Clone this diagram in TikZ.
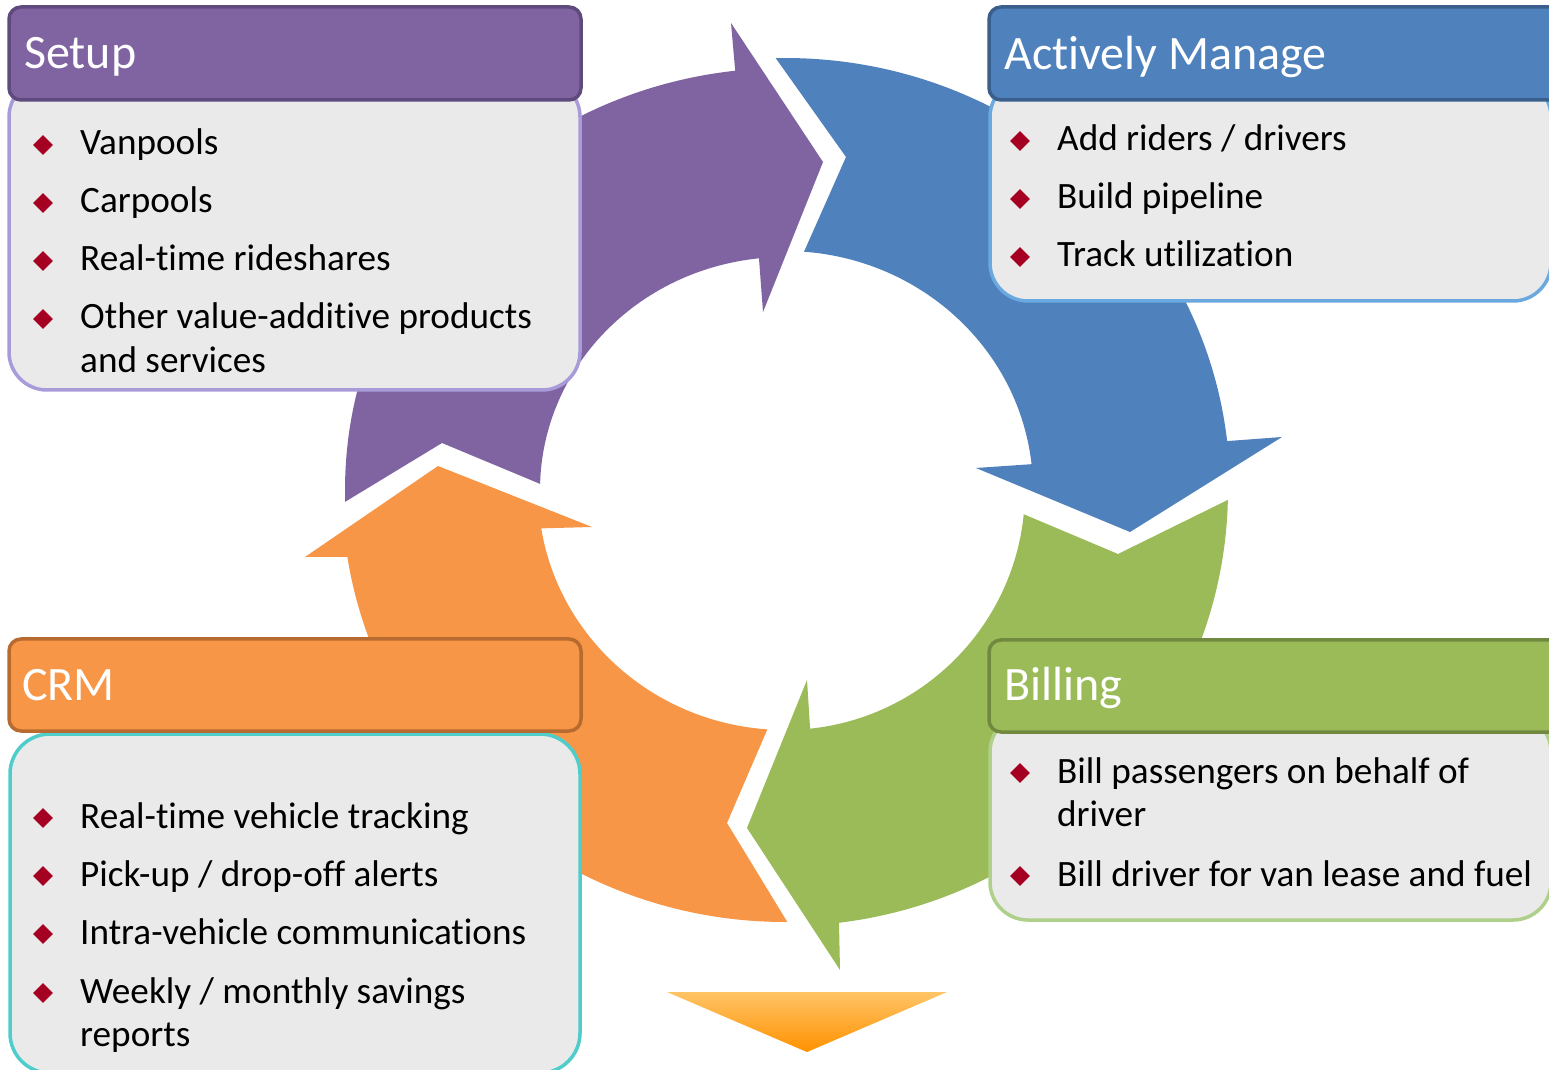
\documentclass[tikz,border=0pt]{standalone}
\usepackage{fontspec}
\setmainfont{Carlito}[Ligatures=NoCommon]
\usetikzlibrary{shapes.geometric}
\definecolor{purp}{HTML}{8064A2}
\definecolor{purpdark}{HTML}{5F4A7E}
\definecolor{purplite}{HTML}{A99BD9}
\definecolor{blu}{HTML}{4F81BD}
\definecolor{bludark}{HTML}{3A5F8C}
\definecolor{blulite}{HTML}{6AA8E0}
\definecolor{grn}{HTML}{9BBB59}
\definecolor{grndark}{HTML}{71893F}
\definecolor{grnlite}{HTML}{AFD08A}
\definecolor{org}{HTML}{F79646}
\definecolor{orgdark}{HTML}{B86B30}
\definecolor{teal}{HTML}{4FCDCB}
\definecolor{boxgray}{HTML}{EAEAEA}
\definecolor{bulred}{HTML}{A50021}
\definecolor{tritop}{HTML}{FFC466}
\definecolor{tribot}{HTML}{FF9100}
\begin{document}
\begin{tikzpicture}[x=1pt,y=1pt,
  titlebar/.style={rounded corners=12pt, line width=3.5pt},
  bodybox/.style={rounded corners=38pt, line width=3.5pt, fill=boxgray},
  ttl/.style={anchor=base west, inner sep=0pt, text=white, font=\fontsize{48}{57}\selectfont},
  itm/.style={anchor=base west, inner sep=0pt, text=black, font=\fontsize{37.2}{44}\selectfont},
  bul/.style={diamond, fill=bulred, inner sep=0pt, minimum size=20pt}]
\useasboundingbox (0,0) rectangle (1549,1069);
\clip (0,0) rectangle (1549,1069);
\fill[white] (0,0) rectangle (1549,1069);

% ---- circular arrows ----
\begin{scope}[shift={(785,579)}]
% purple
\fill[purp] (181.6:440 and 422) -- (-343,47) -- (178.5:245 and 233)
  arc[start angle=178.5, end angle=96.1, x radius=245, y radius=233]
  -- (-22,178) -- (38,328) -- (-54,467) -- (96.5:440 and 422)
  arc[start angle=96.5, end angle=181.6, x radius=440, y radius=422] -- cycle;
% blue
\fill[blu] (91.2:445 and 432) -- (61,333) -- (85.6:248 and 239)
  arc[start angle=85.6, end angle=6.2, x radius=248, y radius=239]
  -- (191,22) -- (345,-42) -- (497,53) -- (6.5:445 and 432)
  arc[start angle=6.5, end angle=91.2, x radius=445, y radius=432] -- cycle;
% green
\fill[grn] (-1.3:443 and 436) -- (333,-64) -- (-5.8:240 and 240)
  arc[start angle=-5.8, end angle=-84, x radius=240, y radius=240]
  -- (22,-190) -- (-38,-338) -- (55,-480) -- (-83:443 and 436)
  arc[start angle=-83, end angle=-1.3, x radius=443, y radius=436] -- cycle;
% orange
\fill[org] (-89.7:443 and 432) -- (-58,-333) -- (-94.1:247 and 240)
  arc[start angle=-94.1, end angle=-170.8, x radius=247, y radius=240]
  -- (-193,-37) -- (-347,24) -- (-480,-67) -- (-171.1:443 and 432)
  arc[start angle=-171.1, end angle=-89.7, x radius=443, y radius=432] -- cycle;
\end{scope}

% small triangle
\shade[top color=tritop, bottom color=tribot] (667,77) -- (947,77) -- (807,17) -- cycle;

% ---- Setup ----
\draw[bodybox, draw=purplite] (9,990) rectangle (580,679);
\draw[titlebar, fill=purp, draw=purpdark] (9,1062) rectangle (581,969);
\node[ttl] (setupT) at (24,1000) {Setup};
\node[bul] (sb1) at (43,924) {};
\node[bul] (sb2) at (43,866) {};
\node[bul] (sb3) at (43,808) {};
\node[bul] (sb4) at (43,750) {};
\node[itm] (s1) at (80,914) {Vanpools};
\node[itm] (s2) at (80,856) {Carpools};
\node[itm] (s3) at (80,798) {Real-time rideshares};
\node[itm] (s4) at (80,740) {Other value-additive products};
\node[itm] (s5) at (80,696) {and services};

% ---- Actively Manage ----
\draw[bodybox, draw=blulite] (990,990) rectangle (1551,768);
\draw[titlebar, fill=blu, draw=bludark] (989,1062) rectangle (1575,969);
\node[ttl] (amT) at (1004,999) {Actively Manage};
\node[bul] (ab1) at (1020,928) {};
\node[bul] (ab2) at (1020,870) {};
\node[bul] (ab3) at (1020,812) {};
\node[itm] (a1) at (1057,918) {Add riders / drivers};
\node[itm] (a2) at (1057,860) {Build pipeline};
\node[itm] (a3) at (1057,802) {Track utilization};

% ---- Billing ----
\draw[bodybox, draw=grnlite] (990,355) rectangle (1551,149);
\draw[titlebar, fill=grn, draw=grndark] (989,429) rectangle (1575,337);
\node[ttl] (biT) at (1004,369) {Billing};
\node[bul] (bb1) at (1020,296) {};
\node[bul] (bb2) at (1020,193) {};
\node[itm] (b1) at (1057,286) {Bill passengers on behalf of};
\node[itm] (b2) at (1057,243) {driver};
\node[itm] (b3) at (1057,183) {Bill driver for van lease and fuel};

% ---- CRM ----
\draw[bodybox, rounded corners=40pt, draw=teal] (10,335) rectangle (580,-4);
\draw[titlebar, fill=org, draw=orgdark] (9,430) rectangle (581,338);
\node[ttl] (crmT) at (22,369) {CRM};
\node[bul] (cb1) at (43,251) {};
\node[bul] (cb2) at (43,193) {};
\node[bul] (cb3) at (43,135) {};
\node[bul] (cb4) at (43,76) {};
\node[itm] (c1) at (80,241) {Real-time vehicle tracking};
\node[itm] (c2) at (80,183) {Pick-up / drop-off alerts};
\node[itm] (c3) at (80,125) {Intra-vehicle communications};
\node[itm] (c4) at (80,66) {Weekly / monthly savings};
\node[itm] (c5) at (80,23) {reports};
\end{tikzpicture}
\end{document}
